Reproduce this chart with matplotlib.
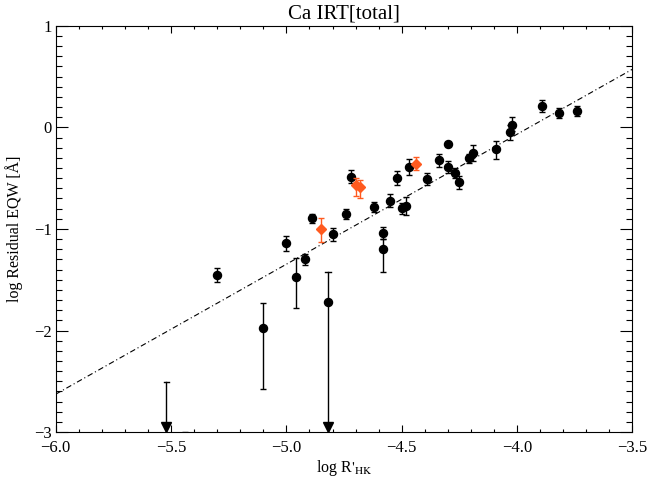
import numpy as np
import matplotlib
matplotlib.use('Agg')
import matplotlib.pyplot as plt
from matplotlib.ticker import MultipleLocator, FuncFormatter

plt.rcParams['font.family'] = ['Liberation Serif', 'DejaVu Serif']
plt.rcParams['mathtext.fontset'] = 'stix'

# black points: x, y, lower err, upper err
bx = [-5.30, -5.10, -4.96, -5.00, -4.92, -4.89, -4.80, -4.74, -4.72, -4.62,
      -4.58, -4.58, -4.55, -4.52, -4.50, -4.48, -4.47, -4.39, -4.34, -4.30,
      -4.30, -4.27, -4.25, -4.21, -4.19, -4.09, -4.03, -4.02, -3.89, -3.82, -3.74]
by = [-1.45, -1.98, -1.47, -1.14, -1.30, -0.89, -1.05, -0.85, -0.49, -0.78,
      -1.04, -1.20, -0.72, -0.50, -0.79, -0.77, -0.39, -0.51, -0.32, -0.16,
      -0.39, -0.45, -0.54, -0.30, -0.25, -0.21, -0.05, 0.02, 0.21, 0.14, 0.16]
blo = [0.07, 0.60, 0.31, 0.08, 0.05, 0.05, 0.07, 0.05, 0.06, 0.05,
       0.06, 0.22, 0.06, 0.07, 0.06, 0.09, 0.08, 0.06, 0.07, 0.02,
       0.06, 0.05, 0.07, 0.05, 0.08, 0.10, 0.07, 0.06, 0.06, 0.05, 0.05]
bhi = [0.07, 0.25, 0.18, 0.07, 0.05, 0.04, 0.06, 0.05, 0.07, 0.05,
       0.06, 0.10, 0.06, 0.07, 0.05, 0.08, 0.08, 0.06, 0.06, 0.02,
       0.06, 0.05, 0.06, 0.04, 0.08, 0.08, 0.07, 0.08, 0.06, 0.05, 0.05]

# orange points
ox = [-4.85, -4.70, -4.68, -4.44]
oy = [-1.00, -0.57, -0.59, -0.36]
olo = [0.13, 0.11, 0.11, 0.06]
ohi = [0.11, 0.07, 0.07, 0.07]

# upper limits (arrow down to the bottom axis)
lim_x = [-4.82, -5.52]
lim_y = [-1.72, np.nan]      # measured value (none for the second)
lim_top = [-1.42, -2.51]     # top of the error bar

# point below the plot range, only its cap shows
low_x = [-5.44]
low_y = [-3.25]
low_hi = [0.247]

# fit line
fit_slope = 1.28
fit_icpt = 0.573 + 1.28 * 3.5

orange = '#ff5a1f'
ymin, ymax = -3.0, 1.0


def minus(fmt):
    return FuncFormatter(lambda v, p: (fmt % v).replace('-', '\u2212'))


fig = plt.figure(figsize=(6.48, 4.79), dpi=100)
ax = fig.add_axes([0.086, 0.098, 0.890, 0.848])

xx = np.array([-6.0, -3.5])
ax.plot(xx, fit_icpt + fit_slope * xx, color='black', lw=0.8,
        dashes=(5, 2.5, 1, 2.5))

ax.errorbar(bx, by, yerr=[blo, bhi], fmt='o', color='black', ms=5.8,
            ecolor='black', elinewidth=1, capsize=2.5, capthick=1, zorder=3)
ax.errorbar(ox, oy, yerr=[olo, ohi], fmt='D', color=orange, ms=5.5,
            ecolor=orange, elinewidth=1, capsize=2.5, capthick=1, zorder=4)
ax.errorbar(low_x, low_y, yerr=[[0.0], low_hi], fmt='o', color='black', ms=5.8,
            elinewidth=1, capsize=2.5, capthick=1, zorder=3)

for x, y, t in zip(lim_x, lim_y, lim_top):
    ax.plot([x, x], [ymin, t], color='black', lw=1, zorder=3)
    ax.plot([x - 0.012, x + 0.012], [t, t], color='black', lw=1, zorder=3)
    if not np.isnan(y):
        ax.plot([x], [y], 'o', color='black', ms=5.8, zorder=3)
    ax.plot([x], [ymin + 0.045], marker='v', color='black', ms=7, zorder=5,
            clip_on=False)

ax.set_xlim(-6.0, -3.5)
ax.set_ylim(ymin, ymax)

ax.xaxis.set_major_locator(MultipleLocator(0.5))
ax.xaxis.set_minor_locator(MultipleLocator(0.1))
ax.yaxis.set_major_locator(MultipleLocator(1))
ax.yaxis.set_minor_locator(MultipleLocator(0.1))
ax.xaxis.set_major_formatter(minus('%.1f'))
ax.yaxis.set_major_formatter(minus('%d'))

ax.tick_params(axis='both', which='both', direction='in', top=True, right=True,
               labelsize=12, width=0.8)
ax.tick_params(axis='x', which='major', length=5, pad=6)
ax.tick_params(axis='x', which='minor', length=2.5)
ax.tick_params(axis='y', which='major', length=8.6, pad=3)
ax.tick_params(axis='y', which='minor', length=4.3)
for s in ax.spines.values():
    s.set_linewidth(0.8)

ax.set_title('Ca IRT[total]', fontsize=15, pad=5)
ax.set_xlabel(r"log R$'_{\mathrm{HK}}$", fontsize=11.5, labelpad=1)
ax.set_ylabel('log Residual EQW [Å]', fontsize=11.5, labelpad=8)

fig.savefig('out.png', dpi=100)
